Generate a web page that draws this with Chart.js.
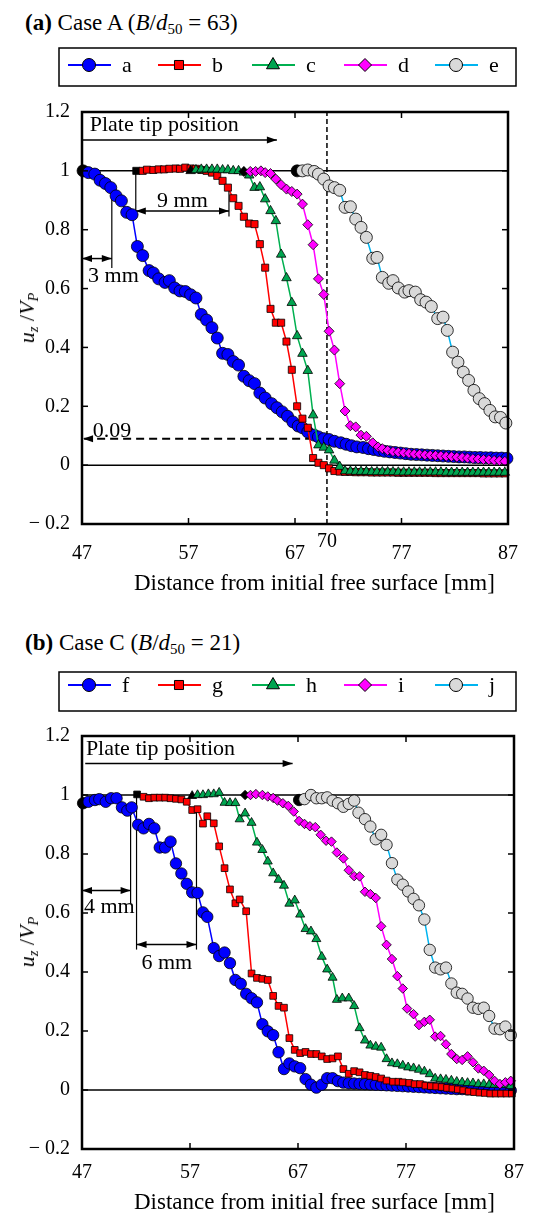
<!DOCTYPE html>
<html>
<head>
<meta charset="utf-8">
<title>Case A / Case C</title>
<script src="https://cdn.jsdelivr.net/npm/chart.js@4.4.1/dist/chart.umd.min.js"></script>
<style>
  html, body { margin: 0; padding: 0; background: #fff; }
  body { position: relative; width: 536px; height: 1215px; overflow: hidden;
         font-family: "Liberation Serif", "Times New Roman", serif; color: #000; }
  canvas { position: absolute; left: 0; }
  .txt { position: absolute; white-space: nowrap; line-height: 1; }
  .ptitle { font-size: 23px; }
  .xtitle { font-size: 23px; }
  .ytitle { font-size: 22px; transform: translate(-50%, -50%) rotate(-90deg); }
  .sub { font-size: 0.65em; position: relative; top: 0.3em; }
</style>
</head>
<body>
<div class="txt ptitle" style="left:25px; top:11px;"><b>(a)</b> Case A (<i>B</i>/<i>d</i><span class="sub">50</span> = 63)</div>
<canvas id="chartA" width="536" height="600" style="top:0"></canvas>
<div class="txt ytitle" style="left:27px; top:318px;"><i>u</i><span class="sub"><i>z</i></span> /<i>V</i><span class="sub"><i>P</i></span></div>
<div class="txt xtitle" style="left:134px; top:571px;">Distance from initial free surface [mm]</div>

<div class="txt ptitle" style="left:25px; top:631px;"><b>(b)</b> Case C (<i>B</i>/<i>d</i><span class="sub">50</span> = 21)</div>
<canvas id="chartB" width="536" height="591" style="top:624px"></canvas>
<div class="txt ytitle" style="left:27px; top:942px;"><i>u</i><span class="sub"><i>z</i></span> /<i>V</i><span class="sub"><i>P</i></span></div>
<div class="txt xtitle" style="left:134px; top:1190px;">Distance from initial free surface [mm]</div>

<script>
// ---- axes ----
const xTicks = [47, 57, 67, 77, 87];
const yTicks = [-0.2, 0, 0.2, 0.4, 0.6, 0.8, 1, 1.2];

// ---- panel (a), Case A ----
const namesA = ['a', 'b', 'c', 'd', 'e'];

const aX = [47.1,47.6,48.2,48.7,49.2,49.7,50.2,50.7,51.2,51.7,52.2,52.7,53.3,53.7,54.2,54.8,55.2,55.7,56.2,56.7,
            57.2,57.7,58.2,58.7,59.2,59.7,60.2,60.7,61.2,61.7,62.2,62.7,63.2,63.7,64.2,64.8,65.3,65.8,66.3,66.8,
            67.3,67.7,68.2,68.8,69.2,69.7,70.2,70.7,71.3,71.8,72.3,72.8,73.4,73.9,74.4,74.9,75.4,75.9,76.4,76.9,
            77.4,77.9,78.4,78.9,79.4,79.9,80.4,80.9,81.4,81.9,82.4,82.9,83.4,83.9,84.4,84.9,85.4,85.9,86.4,86.9];
const aY = [1.000,0.994,0.989,0.968,0.957,0.943,0.915,0.898,0.859,0.851,0.743,0.712,0.661,0.653,0.633,0.621,0.627,0.602,0.592,0.590,
            0.579,0.568,0.512,0.493,0.467,0.432,0.380,0.376,0.352,0.340,0.302,0.287,0.277,0.245,0.228,0.209,0.195,0.181,0.166,0.147,
            0.133,0.127,0.113,0.102,0.096,0.090,0.087,0.081,0.076,0.071,0.066,0.062,0.060,0.056,0.053,0.050,0.047,0.045,0.043,0.041,
            0.039,0.037,0.036,0.035,0.034,0.033,0.032,0.031,0.030,0.029,0.028,0.028,0.027,0.026,0.026,0.025,0.025,0.024,0.024,0.023];

const bX = [52.1,52.7,53.1,53.7,54.2,54.7,55.2,55.8,56.2,56.7,57.2,57.7,58.2,58.7,59.2,59.7,60.2,60.7,61.2,61.7,
            62.2,62.7,63.2,63.7,64.2,64.7,65.2,65.7,66.2,66.7,67.2,67.7,68.2,68.7,69.2,69.7,70.2,70.7,71.2,71.7,
            72.2,72.7,73.2,73.7,74.2,74.7,75.2,75.7,76.2,76.7,77.2,77.7,78.2,78.7,79.2,79.7,80.2,80.7,81.2,81.7,
            82.2,82.7,83.2,83.7,84.2,84.7,85.2,85.7,86.2,86.7];
const bY = [1.000,1.000,1.004,1.003,1.005,1.005,1.007,1.008,1.007,1.011,1.008,1.007,1.003,1.000,0.994,0.983,0.966,0.943,0.907,0.881,
            0.844,0.821,0.819,0.751,0.671,0.531,0.484,0.484,0.420,0.324,0.200,0.158,0.127,0.024,0.008,0.000,-0.011,-0.020,-0.022,-0.023,
            -0.023,-0.024,-0.024,-0.024,-0.025,-0.025,-0.025,-0.025,-0.025,-0.026,-0.026,-0.026,-0.026,-0.026,-0.026,-0.026,-0.027,-0.027,-0.027,-0.027,
            -0.027,-0.027,-0.027,-0.027,-0.027,-0.028,-0.028,-0.028,-0.028,-0.028];

const cX = [57.2,57.7,58.2,58.7,59.2,59.7,60.2,60.7,61.2,61.7,62.2,62.7,63.2,63.7,64.2,64.7,65.2,65.7,66.2,66.7,
            67.2,67.7,68.2,68.7,69.2,69.7,70.2,70.7,71.2,71.7,72.2,72.7,73.2,73.7,74.2,74.7,75.2,75.7,76.2,76.7,
            77.2,77.7,78.2,78.7,79.2,79.7,80.2,80.7,81.2,81.7,82.2,82.7,83.2,83.7,84.2,84.7,85.2,85.7,86.2,86.7];
const cY = [1.000,1.003,1.005,1.005,1.005,1.005,1.003,1.003,1.000,1.000,0.995,0.985,0.943,0.945,0.904,0.864,0.830,0.716,0.636,0.552,
            0.439,0.379,0.321,0.170,0.068,0.060,0.051,0.016,-0.005,-0.020,-0.021,-0.022,-0.022,-0.022,-0.023,-0.023,-0.023,-0.023,-0.023,-0.024,
            -0.024,-0.024,-0.024,-0.024,-0.024,-0.024,-0.024,-0.024,-0.025,-0.025,-0.025,-0.025,-0.025,-0.025,-0.025,-0.025,-0.025,-0.025,-0.025,-0.025];

const dX = [62.2,62.8,63.3,63.8,64.2,64.7,65.2,65.7,66.2,66.7,67.2,67.7,68.2,68.7,69.2,69.7,70.2,70.7,71.2,71.7,
            72.2,72.7,73.2,73.7,74.3,74.8,75.2,75.7,76.2,76.7,77.2,77.7,78.2,78.7,79.2,79.7,80.2,80.7,81.2,81.7,
            82.2,82.7,83.2,83.7,84.2,84.7,85.2,85.7,86.2,86.7];
const dY = [0.998,0.998,0.998,1.000,0.994,0.991,0.972,0.953,0.938,0.930,0.921,0.887,0.817,0.749,0.633,0.580,0.455,0.391,0.277,0.184,
            0.134,0.130,0.102,0.098,0.076,0.062,0.056,0.050,0.046,0.044,0.042,0.040,0.038,0.037,0.035,0.034,0.033,0.032,0.030,0.029,
            0.027,0.026,0.024,0.022,0.021,0.019,0.018,0.016,0.015,0.013];

const eX = [67.2,67.7,68.2,68.8,69.2,69.7,70.2,70.7,71.2,71.7,72.2,72.7,73.2,73.7,74.3,74.7,75.2,75.8,76.2,76.7,
            77.3,77.7,78.3,78.8,79.3,79.8,80.4,80.9,81.3,81.8,82.3,82.8,83.3,83.8,84.3,84.8,85.3,85.8,86.3,86.8];
const eY = [1.000,1.000,1.003,0.998,0.989,0.972,0.949,0.943,0.934,0.876,0.878,0.836,0.808,0.774,0.703,0.706,0.638,0.618,0.627,0.602,
            0.588,0.593,0.588,0.562,0.554,0.539,0.498,0.503,0.458,0.384,0.350,0.316,0.288,0.254,0.226,0.209,0.186,0.164,0.162,0.143];

// ---- panel (b), Case C ----
const namesB = ['f', 'g', 'h', 'i', 'j'];

const fX = [47.1,47.6,48.2,48.6,49.2,49.7,50.2,50.7,51.2,51.6,52.2,52.7,53.2,53.7,54.2,54.7,55.2,55.7,56.2,56.7,
            57.2,57.7,58.2,58.6,59.2,59.7,60.2,60.7,61.2,61.7,62.2,62.7,63.2,63.7,64.2,64.7,65.2,65.7,66.2,66.7,
            67.2,67.7,68.2,68.7,69.2,69.7,70.2,70.7,71.2,71.7,72.2,72.7,73.2,73.7,74.2,74.7,75.2,75.7,76.2,76.7,
            77.2,77.7,78.2,78.7,79.2,79.7,80.2,80.7,81.2,81.7,82.2,82.7,83.2,83.7,84.2,84.7,85.2,85.7,86.2,86.7];
const fY = [0.972,0.977,0.983,0.986,0.977,0.989,0.989,0.958,0.947,0.958,0.899,0.887,0.902,0.887,0.822,0.822,0.842,0.768,0.734,0.699,
            0.670,0.668,0.602,0.587,0.481,0.454,0.466,0.430,0.373,0.360,0.326,0.311,0.297,0.223,0.199,0.186,0.128,0.071,0.090,0.080,
            0.074,0.037,0.018,0.008,0.018,0.040,0.040,0.030,0.025,0.023,0.022,0.021,0.020,0.019,0.018,0.017,0.016,0.015,0.014,0.013,
            0.012,0.011,0.010,0.009,0.008,0.007,0.006,0.005,0.004,0.003,0.003,0.002,0.002,0.001,0.001,0.000,0.000,-0.001,-0.001,-0.002];

const gX = [52.1,52.7,53.2,53.7,54.2,54.7,55.2,55.7,56.2,56.7,57.2,57.7,58.2,58.6,59.2,59.7,60.2,60.7,61.2,61.6,
            62.2,62.7,63.2,63.7,64.2,64.7,65.2,65.7,66.2,66.7,67.2,67.7,68.2,68.7,69.2,69.7,70.2,70.7,71.2,71.7,
            72.2,72.7,73.2,73.7,74.2,74.7,75.2,75.8,76.3,76.7,77.3,77.8,78.3,78.8,79.3,79.8,80.3,80.8,81.3,81.8,
            82.3,82.8,83.3,83.8,84.3,84.8,85.3,85.8,86.3,86.8];
const gY = [1.002,0.994,0.989,0.991,0.991,0.991,0.989,0.987,0.985,0.977,0.949,0.952,0.903,0.928,0.904,0.826,0.752,0.680,0.633,0.646,
            0.606,0.395,0.380,0.377,0.373,0.319,0.285,0.279,0.176,0.136,0.125,0.129,0.122,0.122,0.114,0.105,0.107,0.114,0.071,0.055,
            0.064,0.060,0.051,0.048,0.044,0.039,0.032,0.028,0.028,0.026,0.024,0.020,0.020,0.015,0.013,0.012,0.010,0.007,0.005,0.002,
            -0.001,-0.005,-0.007,-0.009,-0.010,-0.012,-0.012,-0.012,-0.012,-0.012];

const hX = [57.2,57.7,58.2,58.7,59.2,59.7,60.2,60.7,61.2,61.6,62.1,62.7,63.2,63.7,64.2,64.7,65.2,65.7,66.2,66.7,
            67.2,67.7,68.2,68.7,69.2,69.7,70.2,70.6,71.1,71.7,72.2,72.7,73.2,73.7,74.2,74.7,75.2,75.7,76.2,76.7,
            77.2,77.7,78.2,78.7,79.2,79.7,80.2,80.7,81.2,81.7,82.2,82.7,83.2,83.7,84.2,84.7,85.2,85.7,86.2,86.7];
const hY = [0.997,1.000,1.000,1.003,1.003,1.008,0.974,0.973,0.973,0.918,0.938,0.906,0.839,0.814,0.775,0.735,0.713,0.693,0.632,0.643,
            0.595,0.546,0.538,0.512,0.452,0.409,0.381,0.306,0.311,0.311,0.285,0.210,0.168,0.151,0.147,0.144,0.105,0.091,0.088,0.083,
            0.077,0.074,0.069,0.063,0.054,0.039,0.037,0.035,0.032,0.028,0.026,0.024,0.023,0.020,0.020,0.018,0.018,0.017,0.017,0.014];

const iX = [62.1,62.6,63.1,63.7,64.2,64.7,65.1,65.6,66.1,66.6,67.1,67.6,68.1,68.6,69.1,69.6,70.1,70.6,71.2,71.7,
            72.2,72.7,73.2,73.7,74.2,74.7,75.2,75.7,76.2,76.7,77.1,77.7,78.2,78.7,79.2,79.7,80.2,80.7,81.2,81.7,
            82.2,82.7,83.2,83.7,84.2,84.7,85.2,85.7,86.2,86.7];
const iY = [1.000,1.000,1.003,1.000,0.995,0.990,0.981,0.972,0.963,0.944,0.912,0.902,0.894,0.891,0.865,0.845,0.842,0.805,0.785,0.745,
            0.725,0.724,0.672,0.664,0.651,0.555,0.492,0.444,0.386,0.344,0.276,0.257,0.220,0.231,0.238,0.181,0.183,0.155,0.122,0.105,
            0.102,0.114,0.094,0.073,0.065,0.051,0.031,0.020,0.026,0.031];

const jX = [67.1,67.6,68.2,68.7,69.2,69.7,70.2,70.7,71.2,71.7,72.2,72.6,73.2,73.7,74.2,74.7,75.2,75.7,76.2,76.7,
            77.2,77.7,78.2,78.7,79.2,79.7,80.2,80.7,81.2,81.7,82.2,82.7,83.2,83.7,84.2,84.7,85.2,85.7,86.2,86.7];
const jY = [0.983,0.986,1.000,0.989,0.989,0.992,0.981,0.972,0.960,0.970,0.981,0.940,0.918,0.893,0.850,0.865,0.831,0.769,0.713,0.696,
            0.673,0.648,0.626,0.578,0.475,0.415,0.409,0.415,0.361,0.330,0.326,0.310,0.279,0.275,0.279,0.251,0.208,0.206,0.215,0.186];

// ---- look of the five series (same in both panels) ----
const styles = [
    { line: '#0000ff', fill: '#0000ff', shape: 'circle' },
    { line: '#ff0000', fill: '#ff0000', shape: 'rect' },
    { line: '#00b050', fill: '#00a550', shape: 'triangle' },
    { line: '#ff00ff', fill: '#ff00ff', shape: 'rectRot' },
    { line: '#00b4f0', fill: '#d9d9d9', shape: 'circle' }
];
const markerSize = [6, 5, 5.5, 5, 6];
const legendMarkerSize = [6.5, 6.4, 7.5, 6.5, 6.5];
const legendLineX = [68, 158, 252, 344, 435];

const SERIF = '"Liberation Serif", "Times New Roman", serif';

/**
 * Annotation layout of each panel, in data units of the two axes.
 */
const decoA = {
    legend: { top: 48, bottom: 86, left: 59, right: 516, itemY: 65, textY: 72 },
    lines: [
        { x0: 47, y0: 1, x1: 87, y1: 1, w: 1.5 },
        { x0: 47, y0: 0, x1: 87, y1: 0, w: 1.5 },
        { x0: 70, y0: -0.2, x1: 70, y1: 1.2, w: 1.5, dash: [5, 3] },
        { x0: 47.2, y0: 0.09, x1: 70, y1: 0.09, w: 2, dash: [8, 5] },
        { x0: 47, y0: 1.105, x1: 65.3, y1: 1.105, w: 1.5 },
        { x0: 49.8, y0: 0.95, x1: 49.8, y1: 0.67, w: 1.2 },
        { x0: 47, y0: 0.702, x1: 49.8, y1: 0.702, w: 1.5 },
        { x0: 52.05, y0: 1.0, x1: 52.05, y1: 0.84, w: 1.2 },
        { x0: 60.8, y0: 0.95, x1: 60.8, y1: 0.845, w: 1.2 },
        { x0: 52.05, y0: 0.864, x1: 60.8, y1: 0.864, w: 1.5 }
    ],
    arrows: [
        { x: 65.3, y: 1.105, dir: 1 },
        { x: 47.1, y: 0.09, dir: -1 },
        { x: 47, y: 0.702, dir: -1 },
        { x: 49.8, y: 0.702, dir: 1 },
        { x: 52.05, y: 0.864, dir: -1 },
        { x: 60.8, y: 0.864, dir: 1 }
    ],
    texts: [
        { t: 'Plate tip position', x: 47.72, y: 1.136, align: 'left' },
        { t: '9 mm', x: 56.43, y: 0.876, align: 'center' },
        { t: '3 mm', x: 49.95, y: 0.621, align: 'center' },
        { t: '0.09', x: 48.0, y: 0.096, align: 'left' }
    ],
    extraTick: { t: '70', x: 70, below: 23 }
};

const decoB = {
    legend: { top: 48, bottom: 87, left: 59, right: 516, itemY: 61, textY: 68 },
    lines: [
        { x0: 47, y0: 1, x1: 87, y1: 1, w: 1.5 },
        { x0: 47, y0: 0, x1: 87, y1: 0, w: 1.5 },
        { x0: 47.3, y0: 1.107, x1: 66.5, y1: 1.107, w: 1.5 },
        { x0: 51.5, y0: 0.965, x1: 51.5, y1: 0.634, w: 1.2 },
        { x0: 47, y0: 0.676, x1: 51.5, y1: 0.676, w: 1.5 },
        { x0: 52.05, y0: 1.0, x1: 52.05, y1: 0.476, w: 1.2 },
        { x0: 57.6, y0: 0.96, x1: 57.6, y1: 0.476, w: 1.2 },
        { x0: 52.05, y0: 0.493, x1: 57.6, y1: 0.493, w: 1.5 }
    ],
    arrows: [
        { x: 66.5, y: 1.107, dir: 1 },
        { x: 47, y: 0.676, dir: -1 },
        { x: 51.5, y: 0.676, dir: 1 },
        { x: 52.05, y: 0.493, dir: -1 },
        { x: 57.6, y: 0.493, dir: 1 }
    ],
    texts: [
        { t: 'Plate tip position', x: 47.36, y: 1.135, align: 'left' },
        { t: '4 mm', x: 49.53, y: 0.600, align: 'center' },
        { t: '6 mm', x: 54.85, y: 0.409, align: 'center' }
    ]
};

/**
 * Draw one marker shape, same geometry as Chart.js point styles.
 */
function drawMarker(ctx, shape, x, y, r, fill) {
    ctx.beginPath();
    if (shape === 'circle') {
        ctx.arc(x, y, r, 0, Math.PI * 2);
    }
    else if (shape === 'rect') {
        const s = r * Math.SQRT1_2;
        ctx.rect(x - s, y - s, 2 * s, 2 * s);
    }
    else if (shape === 'triangle') {
        ctx.moveTo(x, y - r);
        ctx.lineTo(x + r * 0.866, y + r * 0.5);
        ctx.lineTo(x - r * 0.866, y + r * 0.5);
        ctx.closePath();
    }
    else {
        ctx.moveTo(x - r, y);
        ctx.lineTo(x, y - r);
        ctx.lineTo(x + r, y);
        ctx.lineTo(x, y + r);
        ctx.closePath();
    }
    ctx.fillStyle = fill;
    ctx.fill();
    ctx.lineWidth = 1;
    ctx.strokeStyle = '#000';
    ctx.stroke();
}

function seg(ctx, x0, y0, x1, y1, w, dash, color) {
    ctx.save();
    ctx.lineWidth = w;
    ctx.strokeStyle = color || '#000';
    ctx.setLineDash(dash || []);
    ctx.beginPath();
    ctx.moveTo(x0, y0);
    ctx.lineTo(x1, y1);
    ctx.stroke();
    ctx.restore();
}

function arrowHead(ctx, x, y, dir) {
    ctx.beginPath();
    ctx.moveTo(x, y);
    ctx.lineTo(x - dir * 10, y - 3.5);
    ctx.lineTo(x - dir * 10, y + 3.5);
    ctx.closePath();
    ctx.fillStyle = '#000';
    ctx.fill();
}

/**
 * Plugin that draws reference lines, dimension arrows, the frame with inward ticks and the boxed legend.
 */
function makeDeco(cfg, names) {
    return {
        id: 'deco',
        beforeDatasetsDraw(chart) {
            const ctx = chart.ctx;
            const X = v => chart.scales.x.getPixelForValue(v);
            const Y = v => chart.scales.y.getPixelForValue(v);

            cfg.lines.forEach(l => seg(ctx, X(l.x0), Y(l.y0), X(l.x1), Y(l.y1), l.w, l.dash));
            cfg.arrows.forEach(a => arrowHead(ctx, X(a.x), Y(a.y), a.dir));

            ctx.save();
            ctx.fillStyle = '#000';
            ctx.font = '22px ' + SERIF;
            ctx.textBaseline = 'alphabetic';
            cfg.texts.forEach(t => {
                ctx.textAlign = t.align;
                ctx.fillText(t.t, X(t.x), Y(t.y));
            });
            if (cfg.extraTick) {
                ctx.font = '20px ' + SERIF;
                ctx.textAlign = 'center';
                ctx.fillText(cfg.extraTick.t, X(cfg.extraTick.x), chart.chartArea.bottom + cfg.extraTick.below);
            }
            ctx.restore();
        },
        afterDatasetsDraw(chart) {
            const ctx = chart.ctx;
            const area = chart.chartArea;
            const X = v => chart.scales.x.getPixelForValue(v);
            const Y = v => chart.scales.y.getPixelForValue(v);

            ctx.save();
            ctx.strokeStyle = '#000';
            ctx.lineWidth = 2.5;
            ctx.strokeRect(area.left, area.top, area.right - area.left, area.bottom - area.top);

            // inward ticks on all four sides
            yTicks.slice(1, -1).forEach(v => {
                seg(ctx, area.left, Y(v), area.left + 6, Y(v), 1.5);
                seg(ctx, area.right - 6, Y(v), area.right, Y(v), 1.5);
            });
            xTicks.slice(1, -1).forEach(v => {
                seg(ctx, X(v), area.bottom, X(v), area.bottom - 6, 1.5);
                seg(ctx, X(v), area.top, X(v), area.top + 6, 1.5);
            });
            ctx.restore();
        },
        afterDraw(chart) {
            const ctx = chart.ctx;
            const lg = cfg.legend;

            ctx.save();
            ctx.strokeStyle = '#000';
            ctx.lineWidth = 1.5;
            ctx.strokeRect(lg.left, lg.top, lg.right - lg.left, lg.bottom - lg.top);

            names.forEach((name, i) => {
                const x0 = legendLineX[i];
                seg(ctx, x0, lg.itemY, x0 + 43, lg.itemY, 2, null, styles[i].line);
                drawMarker(ctx, styles[i].shape, x0 + 21, lg.itemY, legendMarkerSize[i], styles[i].fill);

                ctx.fillStyle = '#000';
                ctx.font = '22px ' + SERIF;
                ctx.textAlign = 'left';
                ctx.textBaseline = 'alphabetic';
                ctx.fillText(name, x0 + 54, lg.textY);
            });
            ctx.restore();
        }
    };
}

function makeDatasets(names, xs, ys, radiusScale) {
    return names.map((name, i) => ({
        label: name,
        data: xs[i].map((x, k) => ({ x: x, y: ys[i][k] })),
        borderColor: styles[i].line,
        backgroundColor: styles[i].fill,
        borderWidth: 1.5,
        pointStyle: styles[i].shape,
        pointRadius: markerSize[i] * radiusScale,
        pointBorderColor: '#000',
        pointBorderWidth: 0.8,
        pointBackgroundColor: c => (c.dataIndex === 0 ? '#000' : styles[i].fill),
        order: names.length - i,
        clip: false,
        tension: 0
    }));
}

function formatY(v) {
    const r = Math.round(v * 10) / 10;
    if (r < 0) {
        return '\u2212 ' + String(Math.abs(r));
    }
    return String(r);
}

// the y scale box is made wide (72 px) so Chart.js does not clip the "− 0.2" label
function makeOptions(bottomPad, xLabelPad) {
    const tickFont = { family: SERIF, size: 20 };
    return {
        responsive: false,
        animation: false,
        events: [],
        layout: { padding: { left: 10, right: 11, top: 112, bottom: bottomPad } },
        plugins: { legend: { display: false }, tooltip: { enabled: false } },
        scales: {
            x: {
                type: 'linear', min: 47, max: 87,
                afterBuildTicks: s => { s.ticks = xTicks.map(v => ({ value: v })); },
                afterFit: s => { s.height = 40; },
                grid: { display: false, drawTicks: false },
                border: { display: false },
                ticks: { padding: xLabelPad, color: '#000', font: tickFont, maxRotation: 0, autoSkip: false,
                         callback: v => String(v) }
            },
            y: {
                type: 'linear', min: -0.2, max: 1.2,
                afterBuildTicks: s => { s.ticks = yTicks.map(v => ({ value: v })); },
                afterFit: s => { s.width = 72; },
                grid: { display: false, drawTicks: false },
                border: { display: false },
                ticks: { padding: 12, color: '#000', font: tickFont, autoSkip: false, callback: formatY }
            }
        }
    };
}

window.onload = function() {
    new Chart(document.getElementById('chartA'), {
        type: 'line',
        data: { datasets: makeDatasets(namesA, [aX, bX, cX, dX, eX], [aY, bY, cY, dY, eY], 1) },
        options: makeOptions(36, 18),
        plugins: [makeDeco(decoA, namesA)]
    });

    new Chart(document.getElementById('chartB'), {
        type: 'line',
        data: { datasets: makeDatasets(namesB, [fX, gX, hX, iX, jX], [fY, gY, hY, iY, jY], 0.95) },
        options: makeOptions(26, 12),
        plugins: [makeDeco(decoB, namesB)]
    });
};
</script>
</body>
</html>
